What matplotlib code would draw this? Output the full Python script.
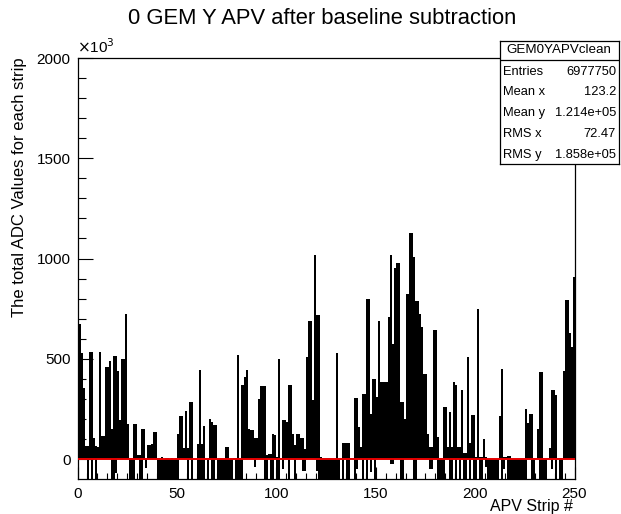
import numpy as np
import matplotlib
matplotlib.use("Agg")
import matplotlib.pyplot as plt
from matplotlib.ticker import MultipleLocator

plt.rcParams['font.family'] = ['Liberation Sans', 'DejaVu Sans']

# per-strip max / min of the summed ADC (units of 10^3)
strip_max = [
    1194, 673, 528, 354, 66, 66, 532, 532, 107, 66,
    60, 532, 117, 117, 461, 461, 491, 150, 516, 516,
    437, 194, 498, 498, 723, 174, 5, 5, 174, 174,
    18, 18, 150, 150, 5, 68, 68, 73, 134, 134,
    5, 3, 8, 2, 5, 3, 2, 4, 2, 3,
    127, 213, 213, 53, 240, 53, 284, 284, 2, 2,
    73, 442, 73, 167, 3, 3, 202, 185, 169, 169,
    2, 2, 2, 2, 61, 61, 2, 2, 3, 7,
    521, 3, 370, 370, 408, 445, 152, 147, 147, 103,
    103, 301, 362, 362, 362, 20, 25, 25, 127, 122,
    10, 498, 3, 194, 194, 185, 367, 367, 124, 70,
    127, 127, 103, 103, 48, 511, 690, 690, 293, 1017,
    720, 720, 8, 5, 7, 6, 4, 2, 2, 2,
    531, 2, 2, 78, 78, 78, 78, 3, 3, 303,
    303, 160, 61, 326, 326, 797, 797, 227, 400, 400,
    309, 690, 384, 384, 384, 384, 706, 1020, 574, 954,
    977, 977, 284, 284, 200, 822, 822, 1125, 1125, 1007,
    789, 789, 723, 657, 425, 425, 127, 61, 61, 643,
    643, 110, 5, 5, 260, 260, 61, 235, 61, 384,
    367, 61, 61, 342, 28, 28, 508, 78, 218, 218,
    12, 748, 12, 12, 98, 12, 2, 2, 2, 2,
    2, 2, 213, 450, 10, 10, 17, 17, 2, 2,
    2, 2, 2, 2, 2, 251, 180, 227, 227, 5,
    5, 152, 433, 433, 3, 3, 3, 53, 342, 342,
    318, 7, 7, 7, 438, 792, 792, 628, 557, 908,
]

F = -120  # goes below the frame
strip_min = [
    0, 0, 0, 0, 0, F, 0, F, 0, F,
    0, 0, 0, 0, 0, 0, 0, F, F, -70,
    0, 0, 0, 0, 0, 0, F, F, F, 0,
    0, F, F, 0, -43, 0, 0, 0, 0, 0,
    F, F, F, F, F, F, F, F, F, F,
    F, 0, 0, 0, 0, F, 0, F, 0, 0,
    F, F, F, F, 0, F, 0, F, F, 0,
    F, F, F, F, F, F, F, F, 0, F,
    F, F, F, 0, 0, 0, 0, 0, 0, -40,
    0, 0, 0, 0, F, F, 0, F, F, 0,
    F, F, 0, -50, 0, 0, F, 0, 0, F,
    0, 0, 0, -60, -60, 0, 0, 0, 0, 0,
    -60, F, F, F, F, F, F, F, F, F,
    F, F, 0, F, 0, F, F, 0, 0, F,
    -50, 0, 0, F, 0, F, 0, -65, 0, F,
    0, 0, 0, 0, 0, 0, 0, -25, -25, 0,
    0, 0, F, F, 0, 0, 0, 0, 0, F,
    F, 0, 0, 0, 0, 0, 0, -50, -50, 0,
    0, F, F, F, F, 0, 0, F, F, 0,
    F, 0, F, 0, F, F, 0, F, 0, F,
    F, 0, F, F, 0, -40, F, F, F, F,
    F, F, 0, F, -50, 0, F, F, F, F,
    F, F, F, F, F, F, 0, 0, F, F,
    0, 0, F, F, F, F, 0, 0, -50, 0,
    F, 0, F, F, 0, 0, 0, 0, 0, 0,
]

stat_names = ["Entries", "Mean x", "Mean y", "RMS x", "RMS y"]
stat_values = ["6977750", "123.2", "1.214e+05", "72.47", "1.858e+05"]

W, H = 621, 514
fig = plt.figure(figsize=(W / 100, H / 100), dpi=100)
ax = fig.add_axes([77.5 / W, 1 - 478.5 / H, 497 / W, 420.5 / H])

strips = np.arange(len(strip_max))
lo = np.array(strip_min, dtype=float)
hi = np.array(strip_max, dtype=float)
ax.bar(strips, hi - lo, bottom=lo, width=1.0, align='edge',
       color='black', linewidth=0)
ax.axhline(0, color='#e80000', lw=1.4, zorder=3)

ax.set_xlim(0, 250)
ax.set_ylim(-97, 2000)

ax.xaxis.set_major_locator(MultipleLocator(50))
ax.xaxis.set_minor_locator(MultipleLocator(5))
ax.yaxis.set_major_locator(MultipleLocator(500))
ax.yaxis.set_minor_locator(MultipleLocator(100))
ax.tick_params(axis='y', which='both', direction='in', left=True, right=False,
               labelsize=11, pad=5)
ax.tick_params(axis='y', which='major', length=10.8, width=0.8)
ax.tick_params(axis='y', which='minor', length=5.4, width=0.8)
ax.tick_params(axis='x', which='both', direction='in', bottom=True, top=False,
               labelsize=11, pad=6)
ax.tick_params(axis='x', which='major', length=9, width=0.8)
ax.tick_params(axis='x', which='minor', length=4.5, width=0.8)
for s in ax.spines.values():
    s.set_linewidth(0.9)

fig.text(322 / W, 1 - 19 / H, "0 GEM Y APV after baseline subtraction",
         ha='center', va='center', fontsize=15.8)
fig.text(77 / W, 1 - 53 / H, r"$\times$10$^{3}$", ha='left', va='baseline',
         fontsize=11)
fig.text(20 / W, 1 - 57 / H, "The total ADC Values for each strip",
         rotation=90, ha='center', va='top', fontsize=12)
fig.text(573 / W, 1 - 507 / H, "APV Strip #", ha='right', va='center',
         fontsize=11.5)

# stats box
sb = fig.add_axes([499.5 / W, 1 - 163.5 / H, 119.5 / W, 122 / H])
sb.set_xticks([])
sb.set_yticks([])
sb.set_xlim(0, 1)
sb.set_ylim(0, 1)
for s in sb.spines.values():
    s.set_linewidth(0.9)
sb.axhline(0.848, color='black', lw=0.9)
sb.text(0.5, 0.93, "GEM0YAPVclean", ha='center', va='center', fontsize=9.6)
row_y = [0.754, 0.582, 0.410, 0.238, 0.070]
for name, val, y in zip(stat_names, stat_values, row_y):
    sb.text(0.03, y, name, ha='left', va='center', fontsize=9.3)
    sb.text(0.975, y, val, ha='right', va='center', fontsize=9.3)

fig.savefig("out.png", dpi=100)
